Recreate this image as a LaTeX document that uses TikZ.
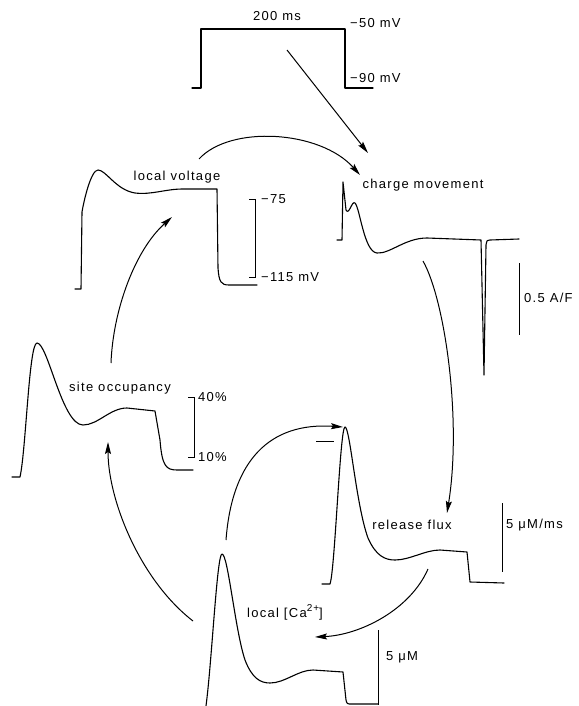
\documentclass[tikz,border=0pt]{standalone}
\usepackage{fontspec}
\newfontfamily\figfont[LetterSpace=10]{Liberation Sans}
\usetikzlibrary{arrows.meta}
\tikzset{
    tracestyle/.style={line width=1.1pt, line join=round, line cap=round},
    scalebar/.style={line width=0.9pt},
    arr/.style={-{Stealth[length=12pt, width=6pt, inset=2pt]}, line width=1pt},
    lbl/.style={font=\figfont\fontsize{13}{15}\selectfont, inner sep=0pt},
    scalelbl/.style={font=\figfont\fontsize{13}{15}\selectfont, inner sep=0pt, anchor=west}
}
\begin{document}
\begin{tikzpicture}[x=1pt, y=-1pt]
    \useasboundingbox (0,0) rectangle (578,706);
    % command step
    \draw[tracestyle] (192,88) -- (201,88) -- (201,29) -- (345,29) -- (345,88) -- (373,88);
    \node[lbl] (dur) at (277,16) {200 ms};
    \node[scalelbl] (vhold) at (350,23) {−50 mV};
    \node[scalelbl] (vrest) at (350,78) {−90 mV};
    \coordinate (stepout) at (287,50);
    % local voltage
    \draw[tracestyle] (75,289) -- (81,289) -- (82,212) .. controls (84,200) and (91,170) .. (98,170)
        .. controls (106,170) and (116,190) .. (135,193) .. controls (152,195) and (165,189) .. (183,189)
        -- (217,189) -- (218,268) .. controls (219,282) and (221,285) .. (229,285) -- (257,285);
    \node[lbl] (lvlab) at (177,177) {local voltage};
    \draw[scalebar] (249,199) -- (255,199) -- (255,277) -- (249,277);
    \node[scalelbl] (lvtop) at (261,199) {−75};
    \node[scalelbl] (lvbot) at (261,277) {−115 mV};
    \coordinate (lvout) at (199,159);
    \coordinate (lvin) at (172,217);
    % charge movement
    \draw[tracestyle] (337,240) -- (342,240) -- (343,182) -- (346,210) .. controls (349,216) and (352,200) .. (355,203)
        .. controls (360,208) and (364,252) .. (377,253) .. controls (390,254) and (405,238) .. (427,238)
        -- (481,240) -- (484,375) -- (486,245) .. controls (487,240) .. (490,240) -- (519,239);
    \node[lbl] (cmlab) at (423,185) {charge movement};
    \draw[scalebar] (519,263) -- (519,335);
    \node[scalelbl] (cmbar) at (524,298) {0.5 A/F};
    \coordinate (cmin1) at (368,153);
    \coordinate (cmin2) at (360,175);
    \coordinate (cmout) at (423,261);
    % site occupancy
    \draw[tracestyle] (12,477) -- (20,477) .. controls (26,450) and (29,343) .. (37,343)
        .. controls (48,343) and (62,425) .. (83,425) .. controls (98,425) and (110,408) .. (127,408)
        -- (155,411) -- (160,440) .. controls (162,466) and (166,470) .. (177,470) -- (193,470);
    \node[lbl] (solab) at (120,388) {site occupancy};
    \draw[scalebar] (188,397) -- (194,397) -- (194,457) -- (188,457);
    \node[scalelbl] (sotop) at (198,397) {40\%};
    \node[scalelbl] (sobot) at (198,457) {10\%};
    \coordinate (soout) at (111,363);
    \coordinate (soin) at (108,442);
    % release flux
    \draw[tracestyle] (322,584) -- (330,584) .. controls (335,570) and (340,427) .. (345,427)
        .. controls (350,427) and (356,505) .. (368,538) .. controls (376,556) and (385,560) .. (395,560)
        .. controls (410,560) and (425,550) .. (440,550) -- (467,552) -- (470,582) -- (504,583);
    \draw[scalebar] (316,441) -- (334,441);
    \node[lbl] (rflab) at (412,525) {release flux};
    \draw[scalebar] (502,503) -- (502,572);
    \node[scalelbl] (rfbar) at (506,525) {5 μM/ms};
    \coordinate (rfin1) at (447,513);
    \coordinate (rfin2) at (343,427);
    \coordinate (rfout) at (428,569);
    % local calcium
    \draw[tracestyle] (206,706) .. controls (212,660) and (217,554) .. (222,554)
        .. controls (228,554) and (235,630) .. (245,660) .. controls (252,678) and (260,683) .. (270,683)
        .. controls (285,683) and (298,670) .. (313,670) -- (343,672) -- (346,700) .. controls (347,704) .. (352,704) -- (378,704);
    \node[lbl] (calab) at (285,612) {local [Ca\raisebox{6pt}{\fontsize{10}{12}\selectfont 2+}]};
    \draw[scalebar] (378,630) -- (378,705);
    \node[scalelbl] (cabar) at (386,657) {5 μM};
    \coordinate (caout1) at (226,540);
    \coordinate (caout2) at (193,621);
    \coordinate (cain) at (315,637);
    % arrows
    \draw[arr] (stepout) -- (cmin1);
    \draw[arr] (lvout) .. controls (230,125) and (320,130) .. (cmin2);
    \draw[arr] (cmout) .. controls (445,300) and (462,420) .. (rfin1);
    \draw[arr] (rfout) .. controls (410,610) and (360,635) .. (cain);
    \draw[arr] (caout1) .. controls (232,460) and (270,422) .. (rfin2);
    \draw[arr] (caout2) .. controls (140,580) and (108,500) .. (soin);
    \draw[arr] (soout) .. controls (113,310) and (135,250) .. (lvin);
\end{tikzpicture}
\end{document}
